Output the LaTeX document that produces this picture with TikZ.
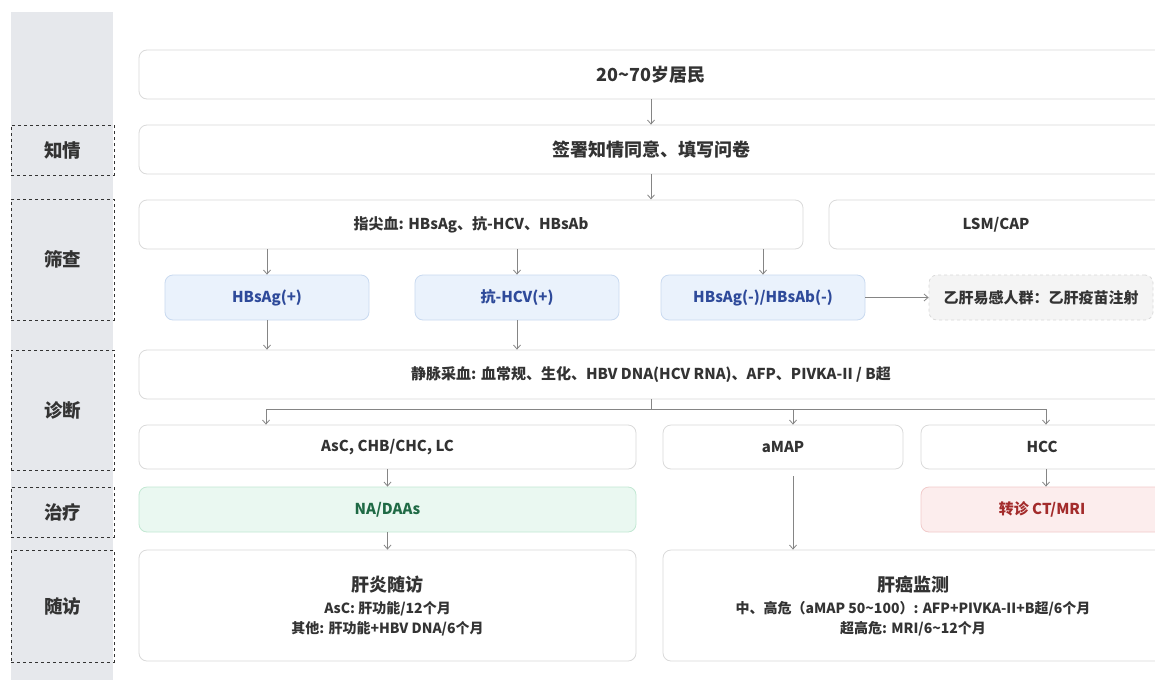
\documentclass[tikz,border=0pt]{standalone}
\usepackage{fontspec}
\setmainfont{Noto Sans CJK SC}
\usetikzlibrary{arrows.meta}
\definecolor{lanegray}{HTML}{E6E8EC}
\definecolor{boxline}{HTML}{DADADA}
\definecolor{textdark}{HTML}{333333}
\definecolor{linegray}{HTML}{858585}
\definecolor{bluefill}{HTML}{EAF2FC}
\definecolor{blueline}{HTML}{C9DAF0}
\definecolor{bluetext}{HTML}{2E4A9A}
\definecolor{greenfill}{HTML}{EAF8F1}
\definecolor{greenline}{HTML}{C2E8D3}
\definecolor{greentext}{HTML}{1F6A45}
\definecolor{redfill}{HTML}{FCEDED}
\definecolor{redline}{HTML}{F1CACA}
\definecolor{redtext}{HTML}{A32B2B}
\definecolor{vaccfill}{HTML}{F4F4F4}

\begin{document}
\begin{tikzpicture}[x=1pt,y=-1pt,
  box/.style={draw=boxline,fill=white,rounded corners=8pt,line width=0.8pt,inner sep=0pt,
    text=textdark,font=\bfseries\fontsize{15}{18}\selectfont},
  bluebox/.style={box,draw=blueline,fill=bluefill,text=bluetext,minimum width=204pt,minimum height=45pt},
  lane/.style={draw=textdark,dashed,line width=0.7pt,minimum width=103pt,inner sep=0pt,
    text=textdark,font=\bfseries\fontsize{18.5}{22}\selectfont},
  arr/.style={draw=linegray,line width=0.8pt,-{Straight Barb[length=4pt,width=7pt]}}]
  % Frame and lane column
  \clip (0,0) rectangle (1155,680);
  \fill[white] (0,0) rectangle (1155,680);
  \fill[lanegray] (11,12) rectangle (113,680);
  \node[lane,minimum height=50pt]  (lzq) at (62.5,150) {知情};
  \node[lane,minimum height=121pt] (lsc) at (62.5,259.5) {筛查};
  \node[lane,minimum height=120pt] (lzd) at (62.5,410) {诊断};
  \node[lane,minimum height=50pt]  (lzl) at (62.5,512) {治疗};
  \node[lane,minimum height=112pt] (lsf) at (62.5,606) {随访};
  % Population and consent
  \node[box,minimum width=1024pt,minimum height=49pt,font=\bfseries\fontsize{18}{21}\selectfont]
    (pop) at (651,74.5) {20\textasciitilde70岁居民};
  \node[box,minimum width=1024pt,minimum height=49pt,font=\bfseries\fontsize{18}{21}\selectfont]
    (consent) at (651,149.5) {签署知情同意、填写问卷};
  % Screening
  \node[box,minimum width=664pt,minimum height=49pt] (finger) at (471,224.5) {指尖血: HBsAg、抗-HCV、HBsAb};
  \node[box,minimum width=334pt,minimum height=49pt] (lsm) at (996,224.5) {LSM/CAP};
  \node[bluebox] (hbsag) at (267,297.5) {HBsAg(+)};
  \node[bluebox] (hcv) at (517,297.5) {抗-HCV(+)};
  \node[bluebox] (neg) at (763,297.5) {HBsAg(-)/HBsAb(-)};
  \node[box,dashed,draw=boxline,fill=vaccfill,minimum width=224pt,minimum height=45pt]
    (vacc) at (1041,297.5) {乙肝易感人群：乙肝疫苗注射};
  % Diagnosis
  \node[box,minimum width=1024pt,minimum height=49pt]
    (vein) at (651,374.5) {静脉采血: 血常规、生化、HBV DNA(HCV RNA)、AFP、PIVKA-II / B超};
  \node[box,minimum width=497pt,minimum height=44pt] (asc) at (387.5,447) {AsC, CHB/CHC, LC};
  \node[box,minimum width=240pt,minimum height=44pt] (amap) at (783,447) {aMAP};
  \node[box,minimum width=242pt,minimum height=44pt] (hcc) at (1042,447) {HCC};
  % Treatment
  \node[box,draw=greenline,fill=greenfill,text=greentext,minimum width=497pt,minimum height=45pt]
    (na) at (387.5,509.5) {NA/DAAs};
  \node[box,draw=redline,fill=redfill,text=redtext,minimum width=242pt,minimum height=45pt]
    (ref) at (1042,509.5) {转诊 CT/MRI};
  % Follow-up
  \node[box,minimum width=497pt,minimum height=111pt,align=center,font=\bfseries\fontsize{14}{20}\selectfont]
    (hep) at (387.5,605.5) {{\fontsize{18}{22}\selectfont 肝炎随访}\\[2pt]AsC: 肝功能/12个月\\其他: 肝功能+HBV DNA/6个月};
  \node[box,minimum width=500pt,minimum height=111pt,align=center,font=\bfseries\fontsize{14}{20}\selectfont]
    (canc) at (913,605.5) {{\fontsize{18}{22}\selectfont 肝癌监测}\\[2pt]中、高危（aMAP 50\textasciitilde100）: AFP+PIVKA-II+B超/6个月\\超高危: MRI/6\textasciitilde12个月};
  % Connectors
  \draw[arr] (pop) -- (consent);
  \draw[arr] (consent.south -| finger.center) ++(180,0) -- ++(0,25);
  \draw[arr] (finger.south -| hbsag) -- (hbsag);
  \draw[arr] (finger.south -| hcv) -- (hcv);
  \draw[arr] (finger.south -| neg) -- (neg);
  \draw[arr] (neg) -- (vacc);
  \draw[arr] (hbsag) -- (hbsag |- vein.north);
  \draw[arr] (hcv) -- (hcv |- vein.north);
  \coordinate (bus) at (651,409);
  \coordinate (busl) at (266,409);
  \coordinate (busm) at (793,409);
  \coordinate (busr) at (1046,409);
  \draw[linegray,line width=0.8pt] (vein.south) -- (bus);
  \draw[linegray,line width=0.8pt] (busl) -- (busr);
  \draw[arr] (busl) -- (busl |- asc.north);
  \draw[arr] (busm) -- (busm |- amap.north);
  \draw[arr] (busr) -- (busr |- hcc.north);
  \draw[arr] (asc) -- (na);
  \draw[arr] (busr |- hcc.south) -- (busr |- ref.north);
  \draw[arr] (na) -- (hep);
  \draw[arr] (busm |- amap.south) ++(0,7) -- (busm |- canc.north);
\end{tikzpicture}
\end{document}
